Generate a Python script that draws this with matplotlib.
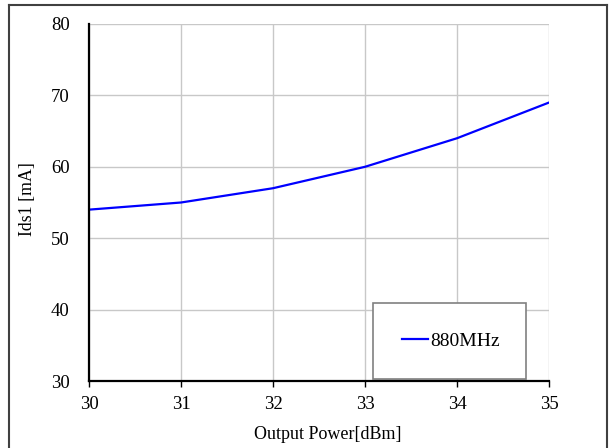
import matplotlib
matplotlib.use("Agg")
import matplotlib.pyplot as plt
from matplotlib.lines import Line2D

output_power = [30, 31, 32, 33, 34, 35]
ids1_880 = [54, 55, 57, 60, 64, 69]
series_label = "880MHz"
x_ticks = [30, 31, 32, 33, 34, 35]
y_ticks = [30, 40, 50, 60, 70, 80]

plt.rcParams['font.family'] = ['Liberation Serif', 'DejaVu Serif']

W, H = 609, 448
fig = plt.figure(figsize=(W / 100, H / 100), dpi=100)
ax = fig.add_axes([89 / W, 1 - 381 / H, 460 / W, 357 / H])

ax.plot(output_power, ids1_880, color='#0000ff', lw=1.6, label=series_label, zorder=3)

ax.set_xlim(30, 35)
ax.set_ylim(30, 80)
ax.set_xticks(x_ticks)
ax.set_yticks(y_ticks)
ax.grid(True, color='#c8c8c8', lw=1.0)
ax.set_axisbelow(True)
for s in ['top', 'right']:
    ax.spines[s].set_visible(False)
for s in ['left', 'bottom']:
    ax.spines[s].set_linewidth(1.6)
    ax.spines[s].set_color('black')
    ax.spines[s].set_zorder(4)
ax.tick_params(axis='x', direction='out', length=4, width=1, pad=7, labelsize=13.5)
ax.tick_params(axis='y', length=0, pad=14, labelsize=13.5)

ax.set_xlabel("Output Power[dBm]", fontsize=13)
ax.xaxis.set_label_coords((328 - 89) / 460, -(434 - 381) / 357)
ax.set_ylabel("Ids1 [mA]", fontsize=12.8)
ax.yaxis.set_label_coords(-(89 - 27.5) / 460, (381 - 199) / 357)
ax.xaxis.label.set_va('center')
ax.yaxis.label.set_va('center')

leg = ax.legend(loc='center', bbox_to_anchor=(0.617, 0.003, 0.333, 0.218),
                mode='expand', fontsize=14, frameon=True, fancybox=False,
                borderpad=1.5, handlelength=1.35, handletextpad=0.1,
                borderaxespad=0)
leg.get_frame().set_edgecolor('#808080')
leg.get_frame().set_linewidth(1.2)
leg.get_frame().set_alpha(1)
leg.set_zorder(3.5)

# outer frame of the picture
c = '#404040'
fig.add_artist(Line2D([9 / W, 9 / W], [0, 1 - 5 / H], color=c, lw=1.5, transform=fig.transFigure))
fig.add_artist(Line2D([9 / W, 607 / W], [1 - 5 / H, 1 - 5 / H], color=c, lw=1.5, transform=fig.transFigure))
fig.add_artist(Line2D([607 / W, 607 / W], [0, 1 - 5 / H], color=c, lw=1.5, transform=fig.transFigure))

fig.savefig("out.png", dpi=100)
